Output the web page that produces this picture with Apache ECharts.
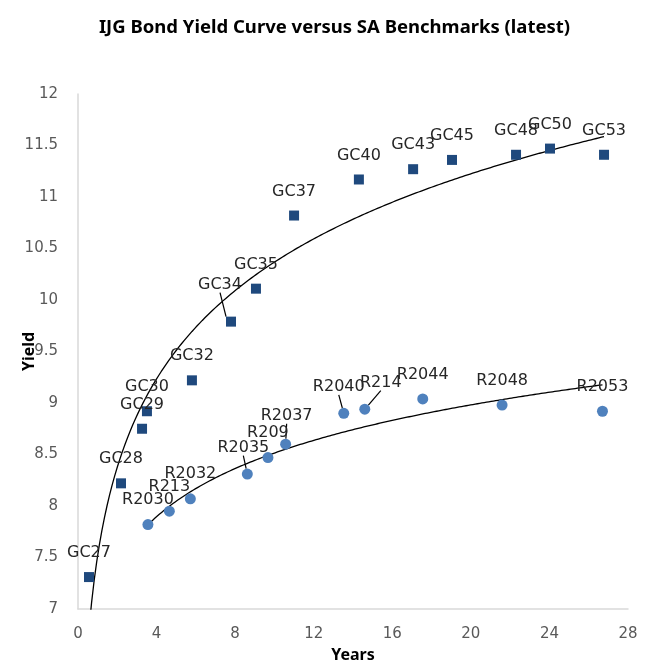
<!DOCTYPE html>
<html>
<head>
<meta charset="utf-8">
<script src="https://cdn.jsdelivr.net/npm/echarts@6/dist/echarts.min.js"></script>
<style>
  html, body { margin: 0; padding: 0; background: #fff; }
  #chart { width: 669px; height: 664px; }
</style>
</head>
<body>
<div id="chart"></div>
<script>
// IJG government bonds
const gcNames = ['GC27', 'GC28', 'GC29', 'GC30', 'GC32', 'GC34', 'GC35', 'GC37', 'GC40', 'GC43', 'GC45', 'GC48', 'GC50', 'GC53'];
const gcYears = [0.56, 2.19, 3.26, 3.51, 5.80, 7.79, 9.06, 11.00, 14.30, 17.06, 19.04, 22.30, 24.03, 26.78];
const gcYield = [7.31, 8.22, 8.75, 8.92, 9.22, 9.79, 10.11, 10.82, 11.17, 11.27, 11.36, 11.41, 11.47, 11.41];

// SA benchmarks
const saNames = ['R2030', 'R213', 'R2032', 'R2035', 'R209', 'R2037', 'R2040', 'R214', 'R2044', 'R2048', 'R2053'];
const saYears = [3.56, 4.65, 5.72, 8.62, 9.67, 10.57, 13.53, 14.60, 17.55, 21.59, 26.70];
const saYield = [7.82, 7.95, 8.07, 8.31, 8.47, 8.60, 8.90, 8.94, 9.04, 8.98, 8.92];

const xTicks = [0, 4, 8, 12, 16, 20, 24, 28];
const yTicks = [7, 7.5, 8, 8.5, 9, 9.5, 10, 10.5, 11, 11.5, 12];

// labels that were dragged off their default spot (with leader line)
const movedLabels = {
  GC34: [-11, -13],
  R2035: [-4, -2],
  R2037: [1, -4],
  R2040: [-5, -2],
  R214: [16, -2]
};

// logarithmic trendline (least squares on ln x), like the spreadsheet one
function logTrend(xs, ys) {
  const n = xs.length;
  const lx = xs.map(v => Math.log(v));
  const mx = lx.reduce((a, b) => a + b, 0) / n;
  const my = ys.reduce((a, b) => a + b, 0) / n;
  let sxy = 0, sxx = 0;
  for (let i = 0; i < n; i++) {
    sxy += (lx[i] - mx) * (ys[i] - my);
    sxx += (lx[i] - mx) * (lx[i] - mx);
  }
  const b = sxy / sxx, a = my - b * mx;
  const x0 = Math.min(...xs), x1 = Math.max(...xs);
  const pts = [];
  for (let k = 0; k <= 200; k++) {
    const x = x0 + (x1 - x0) * k / 200;
    pts.push([x, a + b * Math.log(x)]);
  }
  return pts;
}

function points(names, xs, ys) {
  return names.map((nm, i) => {
    const item = { name: nm, value: [xs[i], ys[i]] };
    if (movedLabels[nm]) item.labelLine = { show: true };
    return item;
  });
}

const labelStyle = {
  show: true,
  position: 'top',
  distance: 11,
  formatter: '{b}',
  color: '#262626',
  fontFamily: 'DejaVu Sans',
  fontSize: 16
};

const layoutFn = function (params) {
  const off = movedLabels[params.text];
  if (off) return { dx: off[0], dy: off[1] };
  return {};
};

const chart = echarts.init(document.getElementById('chart'));
chart.setOption({
  animation: false,
  backgroundColor: '#fff',
  title: {
    text: 'IJG Bond Yield Curve versus SA Benchmarks (latest)',
    left: 'center',
    top: 13,
    textStyle: { fontFamily: 'Noto Sans', fontWeight: 'bold', fontSize: 18.5, color: '#000' }
  },
  grid: { left: 78, right: 41, top: 94, bottom: 55, outerBoundsMode: 'none', containLabel: false },
  xAxis: {
    type: 'value',
    min: 0, max: 28, interval: 4,
    name: 'Years',
    nameLocation: 'middle',
    nameGap: 38,
    nameMoveOverlap: false,
    nameTextStyle: { fontFamily: 'Noto Sans', fontWeight: 'bold', fontSize: 16, color: '#000' },
    axisLine: { show: true, lineStyle: { color: '#d9d9d9', width: 1.5 } },
    axisTick: { show: false },
    splitLine: { show: false },
    axisLabel: {
      margin: 18, color: '#595959', fontFamily: 'DejaVu Sans', fontSize: 15,
      formatter: v => xTicks.includes(v) ? String(v) : ''
    }
  },
  yAxis: {
    type: 'value',
    min: 7, max: 12, interval: 0.5,
    name: 'Yield',
    nameLocation: 'middle',
    nameGap: 41,
    nameMoveOverlap: false,
    nameTextStyle: { fontFamily: 'Noto Sans', fontWeight: 'bold', fontSize: 16, color: '#000' },
    axisLine: { show: true, lineStyle: { color: '#d9d9d9', width: 1.5 } },
    axisTick: { show: false },
    splitLine: { show: false },
    axisLabel: {
      margin: 20, color: '#595959', fontFamily: 'DejaVu Sans', fontSize: 15,
      formatter: v => yTicks.includes(v) ? String(v) : ''
    }
  },
  series: [
    {
      name: 'GC trend',
      type: 'line',
      data: logTrend(gcYears, gcYield),
      showSymbol: false,
      clip: true,
      lineStyle: { color: '#000', width: 1.3 },
      z: 1
    },
    {
      name: 'SA trend',
      type: 'line',
      data: logTrend(saYears, saYield),
      showSymbol: false,
      clip: true,
      lineStyle: { color: '#000', width: 1.3 },
      z: 1
    },
    {
      name: 'IJG',
      type: 'scatter',
      symbol: 'rect',
      symbolSize: 10,
      itemStyle: { color: '#1f497d', opacity: 1 },
      data: points(gcNames, gcYears, gcYield),
      label: labelStyle,
      labelLine: { show: false, lineStyle: { color: '#000', width: 1.2 } },
      labelLayout: layoutFn,
      z: 3
    },
    {
      name: 'SA',
      type: 'scatter',
      symbol: 'circle',
      symbolSize: 11,
      itemStyle: { color: '#4f81bd', opacity: 1 },
      data: points(saNames, saYears, saYield),
      label: labelStyle,
      labelLine: { show: false, lineStyle: { color: '#000', width: 1.2 } },
      labelLayout: layoutFn,
      z: 3
    }
  ]
});
</script>
</body>
</html>
